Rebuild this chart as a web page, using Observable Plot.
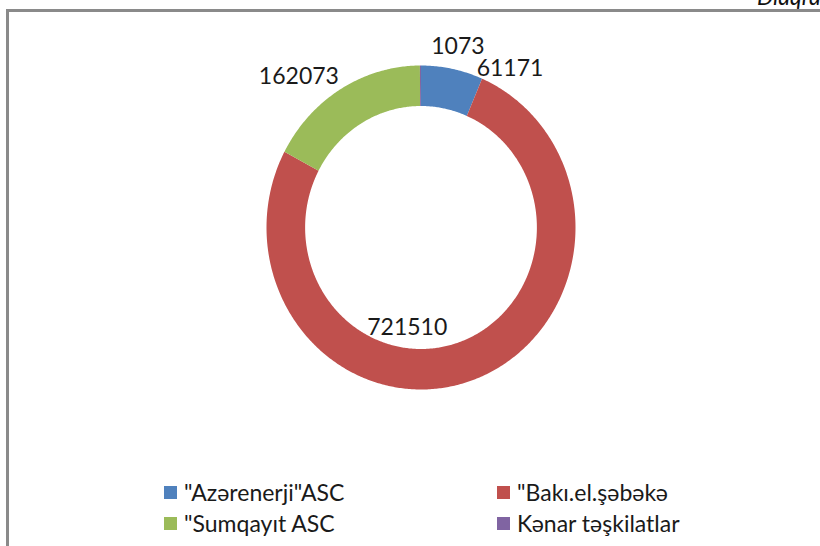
<!DOCTYPE html>
<html>
<head>
<meta charset="utf-8">
<script src="https://cdn.jsdelivr.net/npm/d3@7"></script>
<script src="https://cdn.jsdelivr.net/npm/@observablehq/plot@0.6"></script>
<style>
  html, body { margin: 0; padding: 0; background: #fff; }
  #wrap { position: relative; width: 820px; height: 546px; overflow: hidden; font-family: Lato, "Open Sans", sans-serif; }
  #frame { position: absolute; left: 6px; top: 9px; width: 900px; height: 700px; border-left: 3px solid #8a8a8a; border-top: 3px solid #8a8a8a; }
  #title { position: absolute; left: 757px; top: -15px; font-size: 23px; font-style: italic; color: #111; white-space: nowrap; line-height: 1; }
  #chart { position: absolute; left: 0; top: 0; }
  .item { position: absolute; display: flex; align-items: center; font-size: 23px; color: #1a1a1a; white-space: nowrap; line-height: 1; }
  .sw { width: 13px; height: 13px; margin-right: 7px; flex: none; }
</style>
</head>
<body>
<div id="wrap">
  <div id="frame"></div>
  <div id="title">Diaqram</div>
  <div id="chart"></div>
  <div id="legend"></div>
</div>
<script>
// ---- data ----
const categories = ['"Azərenerji"ASC', '"Bakı.el.şəbəkə', '"Sumqayıt ASC', 'Kənar təşkilatlar'];
const values = [61171, 721510, 162073, 1073];
const colors = ["#4F81BD", "#C0504D", "#9BBB59", "#8064A2"];
// label placement (polar, angle from top clockwise in degrees, radius relative to outer radius)
const labelAngles = [30.4, 188.2, -40.3, 12.1];
const labelRadii = [1.138, 0.623, 1.222, 1.139];
const holeRatio = 0.75;

// ---- build ring polygons from data ----
const pie = d3.pie().sort(null).value(d => d.value);
const arcs = pie(categories.map((c, i) => ({category: c, value: values[i]})));
const ringPts = [];
for (const a of arcs) {
  const n = Math.max(2, Math.ceil((a.endAngle - a.startAngle) / 0.01));
  for (let k = 0; k <= n; k++) {
    const t = a.startAngle + (a.endAngle - a.startAngle) * k / n;
    ringPts.push({category: a.data.category, u: Math.sin(t), v: Math.cos(t)});
  }
  for (let k = n; k >= 0; k--) {
    const t = a.startAngle + (a.endAngle - a.startAngle) * k / n;
    ringPts.push({category: a.data.category, u: holeRatio * Math.sin(t), v: holeRatio * Math.cos(t)});
  }
}
const labels = categories.map((c, i) => {
  const t = labelAngles[i] * Math.PI / 180;
  return {category: c, value: values[i], u: labelRadii[i] * Math.sin(t), v: labelRadii[i] * Math.cos(t)};
});

const chart = Plot.plot({
  width: 820,
  height: 460,
  marginLeft: 266,
  marginRight: 245,
  marginTop: 65,
  marginBottom: 71,
  x: {domain: [-1, 1], axis: null},
  y: {domain: [-1, 1], axis: null},
  color: {domain: categories, range: colors},
  style: {fontFamily: "Lato, 'Open Sans', sans-serif", background: "transparent", overflow: "visible"},
  marks: [
    Plot.line(ringPts, {x: "u", y: "v", z: "category", fill: "category", stroke: null, curve: "linear"}),
    Plot.text(labels, {x: "u", y: "v", text: d => String(d.value), fontSize: 23, fill: "#1a1a1a"})
  ]
});
document.getElementById("chart").appendChild(chart);

// ---- legend ----
const legendCols = [164, 497];
const legendRows = [492, 523];
const legend = document.getElementById("legend");
categories.forEach((c, i) => {
  const el = document.createElement("div");
  el.className = "item";
  el.style.left = legendCols[i % 2] + "px";
  el.style.top = (legendRows[Math.floor(i / 2)] - 12) + "px";
  el.style.height = "24px";
  const sw = document.createElement("span");
  sw.className = "sw";
  sw.style.background = colors[i];
  el.appendChild(sw);
  el.appendChild(document.createTextNode(c));
  legend.appendChild(el);
});
</script>
</body>
</html>
